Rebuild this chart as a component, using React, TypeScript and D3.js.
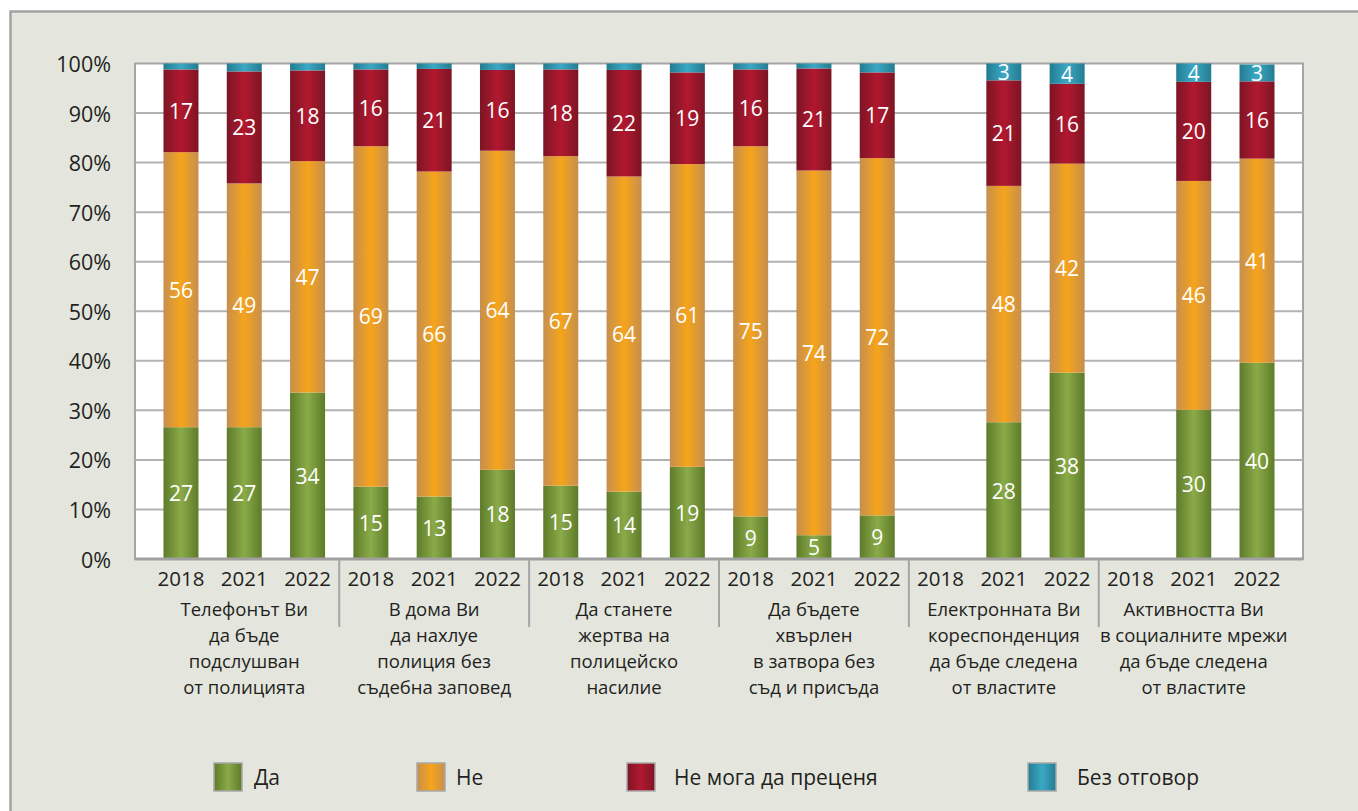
import React from "react";
import * as d3 from "d3";

// Survey answers (%), one entry per bar: 6 topics x 3 years
const years = ["2018", "2021", "2022"];
const topics = [
  ["Телефонът Ви", "да бъде", "подслушван", "от полицията"],
  ["В дома Ви", "да нахлуе", "полиция без", "съдебна заповед"],
  ["Да станете", "жертва на", "полицейско", "насилие"],
  ["Да бъдете", "хвърлен", "в затвора без", "съд и присъда"],
  ["Електронната Ви", "кореспонденция", "да бъде следена", "от властите"],
  ["Активността Ви", "в социалните мрежи", "да бъде следена", "от властите"],
];

const yes = [26.6, 26.6, 33.6, 14.6, 12.6, 18.0, 14.8, 13.6, 18.6, 8.6, 4.8, 8.8, null, 27.6, 37.6, null, 30.1, 39.6];
const no = [55.5, 49.2, 46.7, 68.7, 65.6, 64.4, 66.5, 63.6, 61.1, 74.7, 73.6, 72.1, null, 47.7, 42.2, null, 46.2, 41.2];
const cantSay = [16.7, 22.6, 18.3, 15.5, 20.7, 16.3, 17.5, 21.5, 18.5, 15.5, 20.6, 17.3, null, 21.3, 16.1, null, 20.0, 15.6];
const noAnswer = [1.2, 1.6, 1.4, 1.2, 1.1, 1.3, 1.2, 1.3, 1.8, 1.2, 1.0, 1.8, null, 3.4, 4.1, null, 3.7, 3.4];

const seriesNames = ["Да", "Не", "Не мога да преценя", "Без отговор"];
const yTicks = [0, 10, 20, 30, 40, 50, 60, 70, 80, 90, 100];

// gradient stops per series: edge, centre
const palette = [
  ["#5e7b2a", "#8aab48"],
  ["#c68f4e", "#f6a41a"],
  ["#7c1524", "#b2182f"],
  ["#237c91", "#3ca8c4"],
];

const W = 1358;
const H = 811;
const plot = { left: 135, top: 63.5, right: 1303, bottom: 559 };
const legendX = [214, 417, 627, 1028];
const legendTextX = [254, 456, 674, 1077];
const FONT = "'Open Sans', 'Noto Sans', sans-serif";
const TEXT = "#231f20";

export default function App() {
  const keys = ["yes", "no", "cantSay", "noAnswer"];
  const rows = yes.map((_, i) => ({
    id: String(i),
    year: years[i % 3],
    empty: yes[i] == null,
    yes: yes[i] ?? 0,
    no: no[i] ?? 0,
    cantSay: cantSay[i] ?? 0,
    noAnswer: noAnswer[i] ?? 0,
  }));

  const x = d3
    .scaleBand()
    .domain(rows.map((d) => d.id))
    .range([plot.left, plot.right])
    .paddingInner(0.447)
    .paddingOuter(0.45);
  const y = d3.scaleLinear().domain([0, 100]).range([plot.bottom, plot.top]);

  const stacked = d3.stack().keys(keys)(rows as any);
  const step = x.step();
  const groupEdge = (g: number) => x(String(g * 3))! - (step - x.bandwidth()) / 2;

  return (
    <svg
      width={W}
      height={H}
      style={{ position: "absolute", left: 0, top: 0, display: "block" }}
      fontFamily={FONT}
    >
      <defs>
        {palette.map(([edge, mid], i) => (
          <linearGradient key={i} id={`g${i}`} x1="0" x2="1" y1="0" y2="0">
            <stop offset="0" stopColor={edge} />
            <stop offset="0.5" stopColor={mid} />
            <stop offset="1" stopColor={edge} />
          </linearGradient>
        ))}
      </defs>

      {/* frame */}
      <rect x={0} y={0} width={W} height={H} fill="#ffffff" />
      <rect x={10} y={11} width={W - 10} height={H - 11} fill="#e4e6de" />
      <path d={`M10.5,${H} V11.5 H${W}`} fill="none" stroke="#a2a2a2" strokeWidth={2.5} />

      {/* plot area */}
      <rect
        x={plot.left}
        y={plot.top}
        width={plot.right - plot.left}
        height={plot.bottom - plot.top}
        fill="#ffffff"
        stroke="#a5a5a5"
        strokeWidth={2}
      />
      {yTicks.map((t) => (
        <g key={t}>
          {t > 0 && t < 100 && (
            <line x1={plot.left} x2={plot.right} y1={y(t)} y2={y(t)} stroke="#b2b2b2" strokeWidth={2} />
          )}
          <text
            x={111}
            y={y(t)}
            textAnchor="end"
            dominantBaseline="central"
            fontSize={21.5}
            fill={TEXT}
          >
            {t}%
          </text>
        </g>
      ))}

      {/* bars */}
      {stacked.map((s, si) => (
        <g key={s.key}>
          {s.map((d: any) => {
            const v = d.data[s.key] as number;
            if (d.data.empty || v <= 0) return null;
            const bx = x(d.data.id)!;
            const top = y(d[1]);
            const bottom = y(d[0]);
            const show = v >= 2.5;
            return (
              <g key={d.data.id}>
                <rect x={bx} y={top} width={x.bandwidth()} height={bottom - top} fill={`url(#g${si})`} />
                {show && (
                  <text
                    x={bx + x.bandwidth() / 2}
                    y={(top + bottom) / 2}
                    textAnchor="middle"
                    dominantBaseline="central"
                    fontSize={21}
                    fill="#ffffff"
                  >
                    {Math.round(v + 1e-6)}
                  </text>
                )}
              </g>
            );
          })}
        </g>
      ))}

      {/* axis line */}
      <line x1={plot.left} x2={plot.right} y1={plot.bottom} y2={plot.bottom} stroke="#a0a0a0" strokeWidth={3} />

      {/* group separators */}
      {topics.slice(1).map((_, i) => {
        const gx = groupEdge(i + 1);
        return (
          <line key={i} x1={gx} x2={gx} y1={plot.bottom} y2={627} stroke="#a5a5a5" strokeWidth={2} />
        );
      })}

      {/* year labels */}
      {rows.map((d) => (
        <text
          key={d.id}
          x={x(d.id)! + x.bandwidth() / 2}
          y={578}
          textAnchor="middle"
          dominantBaseline="central"
          fontSize={20.5}
          fill={TEXT}
        >
          {d.year}
        </text>
      ))}

      {/* topic labels */}
      {topics.map((lines, g) => {
        const cx = (x(String(g * 3))! + x(String(g * 3 + 2))! + x.bandwidth()) / 2;
        return (
          <text key={g} textAnchor="middle" fontSize={18.5} fill={TEXT}>
            {lines.map((l, li) => (
              <tspan key={li} x={cx} y={608 + li * 26} dominantBaseline="central">
                {l}
              </tspan>
            ))}
          </text>
        );
      })}

      {/* legend */}
      {seriesNames.map((name, i) => (
        <g key={name}>
          <rect
            x={legendX[i]}
            y={763}
            width={28}
            height={28}
            fill={`url(#g${i})`}
            stroke="#a8a8a8"
            strokeWidth={1.5}
          />
          <text x={legendTextX[i]} y={777} dominantBaseline="central" fontSize={21} fill={TEXT}>
            {name}
          </text>
        </g>
      ))}
    </svg>
  );
}
